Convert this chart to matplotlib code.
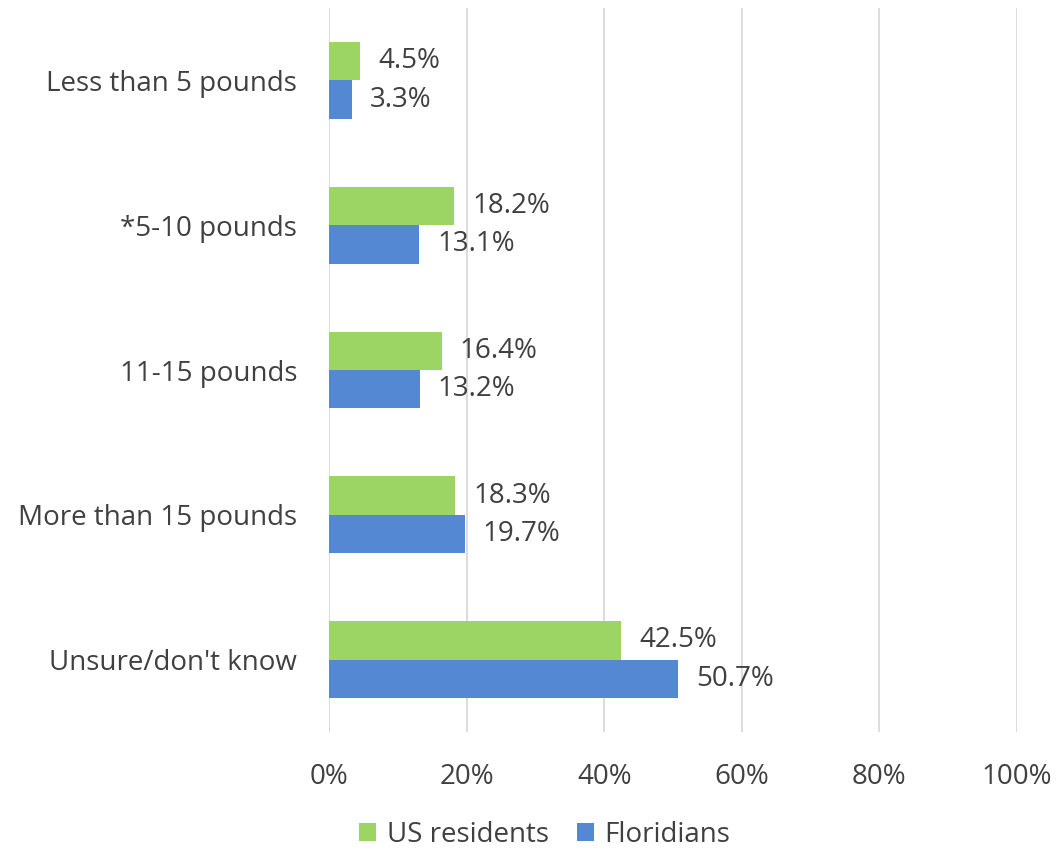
import matplotlib.pyplot as plt
import numpy as np

categories = ["Less than 5 pounds", "*5-10 pounds", "11-15 pounds",
              "More than 15 pounds", "Unsure/don't know"]
us_residents = [4.5, 18.2, 16.4, 18.3, 42.5]
floridians = [3.3, 13.1, 13.2, 19.7, 50.7]
x_ticks = [0, 20, 40, 60, 80, 100]

green = "#9DD564"
blue = "#5588D3"
text_col = "#404040"
fs = 20

plt.rcParams['font.family'] = ['Open Sans', 'DejaVu Sans']

fig = plt.figure(figsize=(10.58, 8.51), dpi=100)
ax = fig.add_axes([329 / 1058, 1 - 732 / 851, (1017 - 329) / 1058, (732 - 8) / 851])

y = np.arange(len(categories))
h = 0.265
ax.barh(y - h / 2, us_residents, height=h, color=green, label="US residents", zorder=3)
ax.barh(y + h / 2, floridians, height=h, color=blue, label="Floridians", zorder=3)

for yi, v in zip(y, us_residents):
    ax.annotate(f"{v}%", (v, yi - h / 2), xytext=(13, 0), textcoords="offset points",
                va="center", ha="left", fontsize=fs, color=text_col)
for yi, v in zip(y, floridians):
    ax.annotate(f"{v}%", (v, yi + h / 2), xytext=(13, 0), textcoords="offset points",
                va="center", ha="left", fontsize=fs, color=text_col)

ax.set_ylim(len(categories) - 0.5, -0.5)
ax.set_xlim(0, 100)
ax.set_yticks(y)
ax.set_yticklabels(categories, fontsize=fs, color=text_col)
ax.set_xticks(x_ticks)
ax.set_xticklabels([f"{t}%" for t in x_ticks], fontsize=fs, color=text_col)
ax.tick_params(length=0)
ax.tick_params(axis='x', pad=22)
ax.tick_params(axis='y', pad=23)
ax.grid(axis='x', color="#D9D9D9", linewidth=1.3, zorder=0)
for s in ax.spines.values():
    s.set_visible(False)

fig.legend(loc="center", bbox_to_anchor=(545 / 1058, 1 - 835 / 851), ncol=2,
           frameon=False, fontsize=fs, handlelength=0.6, handleheight=0.6,
           columnspacing=1.0, handletextpad=0.4, labelcolor=text_col)

fig.savefig("out.png", dpi=100)
